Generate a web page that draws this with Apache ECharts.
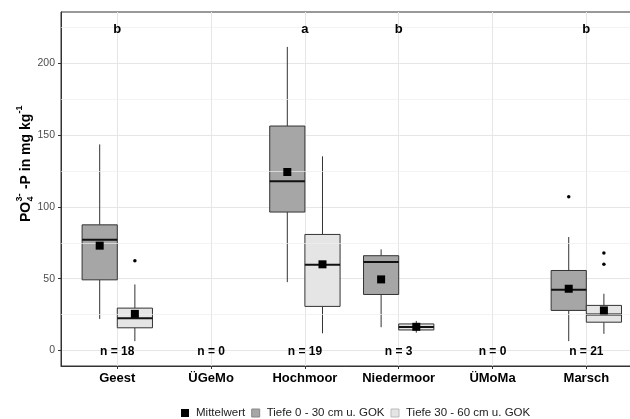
<!DOCTYPE html>
<html><head><meta charset="utf-8">
<script src="https://cdn.jsdelivr.net/npm/echarts@6/dist/echarts.min.js"></script>
<style>html,body{margin:0;padding:0;background:#fff}#c{width:630px;height:419px}</style>
</head><body><div id="c"></div>
<script>
const categories = ['Geest', 'ÜGeMo', 'Hochmoor', 'Niedermoor', 'ÜMoMa', 'Marsch'];
const yTicks = [0, 50, 100, 150, 200];
const yMinorTicks = [25, 75, 125, 175, 225];
// [lower whisker, Q1, median, Q3, upper whisker]
const box0to30 = [[22, 49.2, 77.1, 87.5, 143.5], null, [47.6, 96.4, 117.8, 156.3, 211.4], [16.2, 39, 61.6, 66, 70.4], null, [6.5, 27.9, 42.3, 55.7, 79]];
const box30to60 = [[6.5, 15.8, 22.5, 29.5, 46], null, [12, 30.7, 59.7, 80.8, 135.2], [12.4, 14.3, 16.4, 18.5, 20.6], null, [11.6, 19.7, 25.1, 31.4, 39.5]];
const mean0to30 = [73, null, 124.3, 49.5, null, 43];
const mean30to60 = [25.5, null, 60, 16.5, null, 27.9];
const outliers0to30 = [[], [], [], [], [], [107.1]];
const outliers30to60 = [[62.5], [], [], [], [], [60.1, 67.9]];
const nLabels = ['n = 18', 'n = 0', 'n = 19', 'n = 3', 'n = 0', 'n = 21'];
const letters = ['b', '', 'a', 'b', '', 'b'];
const letterLevel = 224.6;

const FONT = 'Liberation Sans, Arial, Helvetica, sans-serif';
const DODGE = 0.1875, BOXW = 0.375;
const DARK = '#A6A6A6', LIGHT = '#E5E5E5', LINE = '#333333';
const catX = categories.map((c, i) => i + 1);

function boxData(arr, off) {
  const out = [];
  arr.forEach((b, i) => { if (b) out.push([catX[i] + off].concat(b)); });
  return out;
}
function pointData(arr, off) {
  const out = [];
  arr.forEach((v, i) => { if (v !== null) out.push([catX[i] + off, v]); });
  return out;
}
function outlierData(arr, off) {
  const out = [];
  arr.forEach((list, i) => list.forEach(v => out.push([catX[i] + off, v])));
  return out;
}
function renderBox(params, api) {
  const x = api.value(0);
  const lo = api.coord([x, api.value(1)]);
  const q1 = api.coord([x, api.value(2)]);
  const md = api.coord([x, api.value(3)]);
  const q3 = api.coord([x, api.value(4)]);
  const hi = api.coord([x, api.value(5)]);
  const w = api.size([BOXW, 0])[0];
  const cx = lo[0];
  const fill = api.visual('color');
  const ls = { stroke: LINE, lineWidth: 1 };
  return {
    type: 'group',
    children: [
      { type: 'line', shape: { x1: cx, y1: hi[1], x2: cx, y2: q3[1] }, style: ls },
      { type: 'line', shape: { x1: cx, y1: q1[1], x2: cx, y2: lo[1] }, style: ls },
      { type: 'rect', shape: { x: cx - w / 2, y: q3[1], width: w, height: q1[1] - q3[1] }, style: { fill: fill, stroke: LINE, lineWidth: 1 } },
      { type: 'line', shape: { x1: cx - w / 2, y1: md[1], x2: cx + w / 2, y2: md[1] }, style: { stroke: '#111', lineWidth: 2 } }
    ]
  };
}
function renderText(size) {
  return function (params, api) {
    const p = api.coord([api.value(0), api.value(1)]);
    return { type: 'text', x: p[0], y: p[1] + 1, style: { text: api.value(2), fill: '#000', font: 'bold ' + size + 'px ' + FONT, align: 'center', verticalAlign: 'middle' } };
  };
}

const chart = echarts.init(document.getElementById('c'));
chart.setOption({
  animation: false,
  backgroundColor: '#fff',
  grid: { left: 61, top: 12, width: 581.6, height: 354, containLabel: false, outerBoundsMode: 'none', show: true, borderColor: LINE, borderWidth: 1, backgroundColor: 'transparent' },
  xAxis: {
    type: 'value', min: 0.4, max: 6.6,
    axisLine: { show: true, onZero: false, lineStyle: { color: LINE, width: 1 } },
    axisTick: { show: true, length: 3, customValues: catX, lineStyle: { color: LINE } },
    axisLabel: { customValues: catX, margin: 6, color: '#000', fontWeight: 'bold', fontSize: 13, fontFamily: FONT, formatter: v => categories[Math.round(v) - 1] },
    splitLine: { show: true, lineStyle: { color: '#E6E6E6', width: 1 } }
  },
  yAxis: {
    type: 'value', min: -10.8, max: 235.7,
    axisLine: { show: true, onZero: false, lineStyle: { color: LINE, width: 1 } },
    axisTick: { show: true, length: 3, customValues: yTicks, lineStyle: { color: LINE } },
    axisLabel: { customValues: yTicks, margin: 6, color: '#4D4D4D', fontSize: 10.5, fontFamily: FONT },
    splitLine: { show: true, lineStyle: { color: '#E6E6E6', width: 1 } }
  },
  legend: {
    left: 176, top: 402, itemWidth: 8, itemHeight: 8, itemGap: 6,
    textStyle: { fontSize: 11.5, color: '#222', fontFamily: FONT, padding: [0, 0, 0, 2] },
    selectedMode: false,
    data: [
      { name: 'Mittelwert', icon: 'rect', itemStyle: { color: '#000', opacity: 1 } },
      { name: 'Tiefe 0 - 30 cm u. GOK', icon: 'rect', itemStyle: { color: DARK, borderColor: '#888', borderWidth: 1 } },
      { name: 'Tiefe 30 - 60 cm u. GOK', icon: 'rect', itemStyle: { color: LIGHT, borderColor: '#BBB', borderWidth: 1 } }
    ]
  },
  graphic: [{
    type: 'group', x: 26, y: 222, rotation: Math.PI / 2,
    children: [
      { type: 'text', x: 0, y: 0, style: { text: 'PO', font: 'bold 14px ' + FONT, fill: '#000', verticalAlign: 'middle' } },
      { type: 'text', x: 20.5, y: -6, style: { text: '3-', font: 'bold 9px ' + FONT, fill: '#000', verticalAlign: 'middle' } },
      { type: 'text', x: 20.5, y: 5, style: { text: '4', font: 'bold 9px ' + FONT, fill: '#000', verticalAlign: 'middle' } },
      { type: 'text', x: 29, y: 0, style: { text: ' -P in mg kg', font: 'bold 14px ' + FONT, fill: '#000', verticalAlign: 'middle' } },
      { type: 'text', x: 108.5, y: -6, style: { text: '-1', font: 'bold 9px ' + FONT, fill: '#000', verticalAlign: 'middle' } }
    ]
  }],
  series: [
    {
      type: 'line', data: [], silent: true, z: 1,
      markLine: { silent: true, symbol: 'none', label: { show: false }, lineStyle: { color: '#EEEEEE', width: 0.7, type: 'solid' }, data: yMinorTicks.map(v => ({ yAxis: v })) }
    },
    { name: 'Tiefe 0 - 30 cm u. GOK', type: 'custom', renderItem: renderBox, itemStyle: { color: DARK }, encode: { x: 0, y: [1, 2, 3, 4, 5] }, data: boxData(box0to30, -DODGE), z: 3 },
    { name: 'Tiefe 30 - 60 cm u. GOK', type: 'custom', renderItem: renderBox, itemStyle: { color: LIGHT }, encode: { x: 0, y: [1, 2, 3, 4, 5] }, data: boxData(box30to60, DODGE), z: 3 },
    { type: 'scatter', symbol: 'circle', symbolSize: 3.5, itemStyle: { color: '#000', opacity: 1 }, data: outlierData(outliers0to30, -DODGE).concat(outlierData(outliers30to60, DODGE)), z: 4 },
    { name: 'Mittelwert', type: 'scatter', symbol: 'rect', symbolSize: 8, itemStyle: { color: '#000', opacity: 1 }, data: pointData(mean0to30, -DODGE).concat(pointData(mean30to60, DODGE)), z: 5 },
    { type: 'custom', renderItem: renderText(12), data: nLabels.map((t, i) => [catX[i], 0, t]), z: 6 },
    { type: 'custom', renderItem: renderText(13), data: letters.map((t, i) => [catX[i], letterLevel, t]).filter(d => d[2] !== ''), z: 6 }
  ]
});
</script></body></html>
